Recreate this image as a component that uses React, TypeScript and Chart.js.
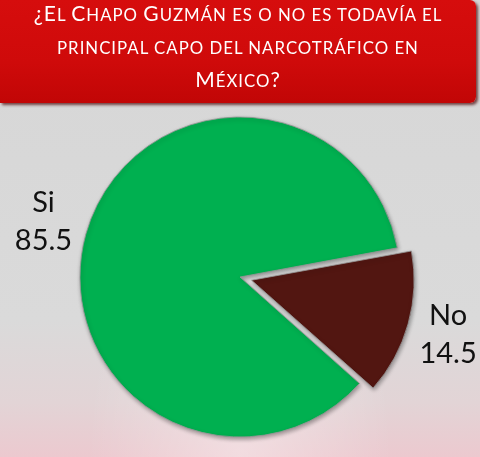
import React, { useEffect, useRef } from "react";
import { Chart, registerables } from "chart.js";

Chart.register(...registerables);

const titleLines = [
  "¿El Chapo Guzmán es o no es todavía el",
  "principal capo del narcotráfico en",
  "México?",
];
const categories = ["Si", "No"];
const values = [85.5, 14.5];
const valueLabels = ["85.5", "14.5"];
const sliceColors = ["#00b050", "#521611"];
// explode distance in pixels for each slice
const explodePx = [0, 12];

const shadowPlugin = {
  id: "sliceShadow",
  beforeDatasetsDraw(chart: any) {
    const ctx = chart.ctx;
    ctx.save();
    ctx.shadowColor = "rgba(0,0,0,0.35)";
    ctx.shadowBlur = 4;
    ctx.shadowOffsetX = 1;
    ctx.shadowOffsetY = 2;
  },
  afterDatasetsDraw(chart: any) {
    chart.ctx.restore();
  },
};

const labelPlugin = {
  id: "outsideLabels",
  afterDraw(chart: any) {
    const ctx = chart.ctx;
    const meta = chart.getDatasetMeta(0);
    ctx.save();
    ctx.fillStyle = "#111111";
    ctx.font = "29px Lato, 'Open Sans', sans-serif";
    ctx.textAlign = "center";
    ctx.textBaseline = "middle";
    meta.data.forEach((arc: any, i: number) => {
      const p = arc.getProps(["x", "y", "startAngle", "endAngle", "outerRadius"], true);
      const mid = (p.startAngle + p.endAngle) / 2;
      const r = p.outerRadius + explodePx[i] + 44;
      const cx = p.x + Math.cos(mid) * r;
      const cy = p.y + Math.sin(mid) * r;
      ctx.fillText(categories[i], cx, cy - 19);
      ctx.fillText(valueLabels[i], cx, cy + 19);
    });
    ctx.restore();
  },
};

// Render a line in small caps: lowercase runs shown as smaller capitals.
function SmallCaps({ text }: { text: string }) {
  const runs: { lower: boolean; s: string }[] = [];
  for (const ch of text) {
    const lower = ch !== ch.toUpperCase() || (ch === " " && runs.length > 0 && runs[runs.length - 1].lower);
    if (runs.length && runs[runs.length - 1].lower === lower) runs[runs.length - 1].s += ch;
    else runs.push({ lower, s: ch });
  }
  return (
    <>
      {runs.map((r, i) =>
        r.lower ? (
          <span key={i} style={{ fontSize: "0.8em", textTransform: "uppercase" }}>
            {r.s}
          </span>
        ) : (
          <span key={i}>{r.s}</span>
        )
      )}
    </>
  );
}

export default function App() {
  const canvasRef = useRef<HTMLCanvasElement | null>(null);

  useEffect(() => {
    if (!canvasRef.current) return;
    const chart = new Chart(canvasRef.current, {
      type: "pie",
      data: {
        labels: categories,
        datasets: [
          {
            data: values,
            backgroundColor: sliceColors,
            borderColor: "rgba(150,150,150,0.8)",
            borderWidth: 1,
            // Chart.js arcs translate by offset/4
            offset: explodePx.map((o) => o * 4),
          },
        ],
      },
      options: {
        responsive: false,
        animation: false,
        rotation: 131.7,
        radius: 160,
        layout: { padding: { top: 117, bottom: 20, left: 0, right: 0 } },
        plugins: {
          legend: { display: false },
          tooltip: { enabled: false },
          title: { display: false },
        },
        events: [],
      } as any,
      plugins: [shadowPlugin, labelPlugin],
    });
    return () => chart.destroy();
  }, []);

  return (
    <div
      style={{
        position: "fixed",
        left: 0,
        top: 0,
        width: 480,
        height: 457,
        overflow: "hidden",
        background:
          "radial-gradient(ellipse at 50% 100%, rgba(255,255,255,0.35) 0%, rgba(255,255,255,0) 45%), linear-gradient(to bottom, #d6d6d6 0%, #dadada 70%, #e2d4d6 88%, #ecc9cf 100%)",
      }}
    >
      <canvas
        ref={canvasRef}
        width={480}
        height={457}
        style={{ position: "absolute", left: 0, top: 0, width: 480, height: 457 }}
      />
      <div
        style={{
          position: "absolute",
          left: 0,
          top: 0,
          width: 476,
          height: 103,
          background: "linear-gradient(to bottom, #d60d0d 0%, #cf0a0a 60%, #c10606 100%)",
          borderBottomRightRadius: 6,
          borderTopRightRadius: 6,
          boxShadow: "2px 2px 3px rgba(70,0,0,0.7)",
          overflow: "hidden",
        }}
      >
        <div
          style={{
            position: "absolute",
            left: 0,
            top: -3,
            width: 476,
            color: "#ffffff",
            fontFamily: "Lato, 'Open Sans', sans-serif",
            fontSize: 21,
            letterSpacing: "1px",
            lineHeight: "31px",
            textAlign: "center",
          }}
        >
          {titleLines.map((t, i) => (
            <div key={i}>
              <SmallCaps text={t} />
            </div>
          ))}
        </div>
      </div>
    </div>
  );
}
